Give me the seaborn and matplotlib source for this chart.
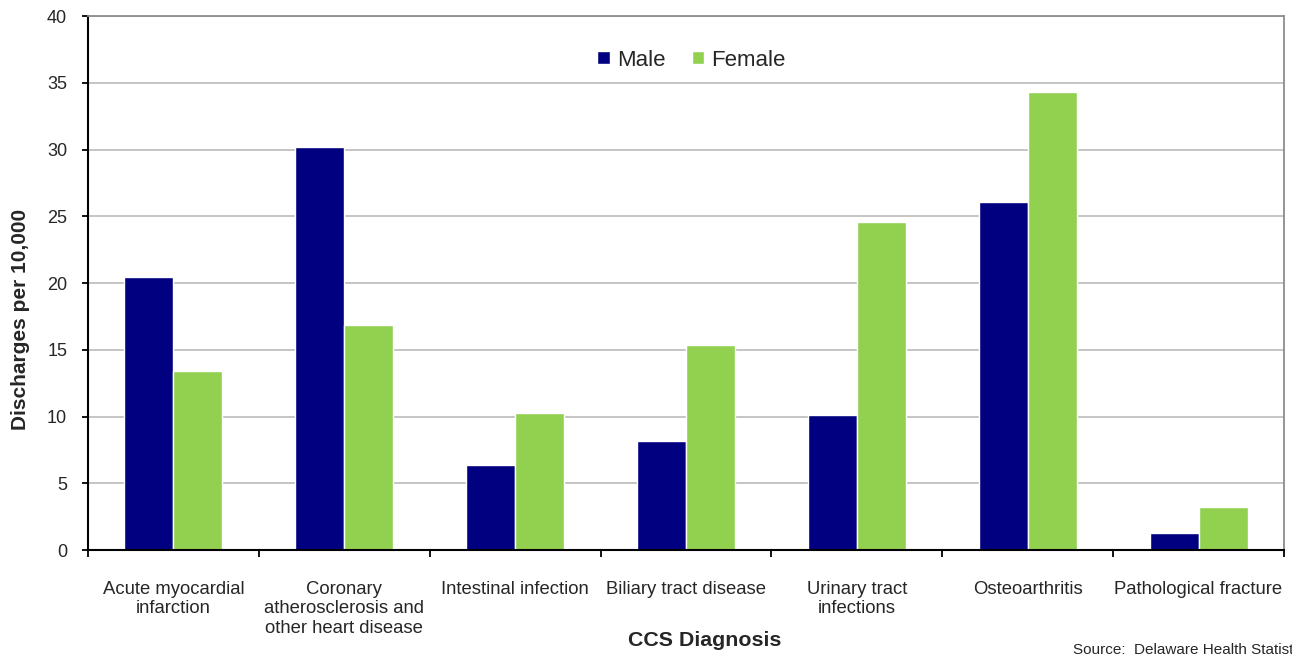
import numpy as np
import pandas as pd
import matplotlib
matplotlib.use('Agg')
import matplotlib.pyplot as plt
import seaborn as sns

# data
categories = ['Acute myocardial\ninfarction',
              'Coronary\natherosclerosis and\nother heart disease',
              'Intestinal infection',
              'Biliary tract disease',
              'Urinary tract\ninfections',
              'Osteoarthritis',
              'Pathological fracture']
male = [20.45, 30.2, 6.37, 8.16, 10.1, 26.07, 1.27]
female = [13.4, 16.85, 10.26, 15.36, 24.6, 34.3, 3.22]
series = ['Male', 'Female']
colors = ['#000080', '#92D050']

df = pd.DataFrame({
    'diagnosis': categories * 2,
    'sex': [series[0]] * len(categories) + [series[1]] * len(categories),
    'rate': male + female,
})

sns.set_style('white')
plt.rcParams['font.family'] = ['Liberation Sans', 'DejaVu Sans']

fig = plt.figure(figsize=(12.92, 6.54), dpi=100)
ax = fig.add_axes([0.0681, 0.159, 0.9257, 0.8165])

sns.barplot(data=df, x='diagnosis', y='rate', hue='sex', palette=colors,
            width=0.573, saturation=1, gap=0, ax=ax, legend=True)

ax.set_ylim(0, 40)
ax.set_xlim(-0.5, len(categories) - 0.5)
ax.set_yticks(np.arange(0, 41, 5))
ax.yaxis.grid(True, color='#C0C0C0', linewidth=1.3)
ax.set_axisbelow(True)

for s in ['left', 'bottom']:
    ax.spines[s].set_color('black')
    ax.spines[s].set_linewidth(1.5)
for s in ['top', 'right']:
    ax.spines[s].set_color('#8C8C8C')
    ax.spines[s].set_linewidth(1.3)

ax.tick_params(axis='y', which='major', direction='out', length=4, width=1.3,
               color='black', labelsize=13, pad=11, left=True)
ax.tick_params(axis='x', which='major', length=0, labelsize=13.3, pad=22)
ax.set_xticks(np.arange(-0.5, len(categories)), minor=True)
ax.tick_params(axis='x', which='minor', direction='out', length=5, width=1.3,
               color='black', bottom=True)

ax.set_xlabel('CCS Diagnosis', fontsize=15.4, fontweight='bold')
ax.xaxis.set_label_coords(0.516, -0.152)
ax.set_ylabel('Discharges per 10,000', fontsize=15, fontweight='bold')
ax.yaxis.set_label_coords(-0.0485, 0.431)

ax.legend(loc='center', bbox_to_anchor=(0.5046, 0.9176), ncol=2, frameon=False,
          fontsize=16, handlelength=0.55, handleheight=0.55, columnspacing=1.2,
          handletextpad=0.32, borderpad=0)

fig.text(1073 / 1292, -0.004, 'Source:  Delaware Health Statistics Center',
         fontsize=11, ha='left', va='bottom')

fig.savefig('out.png', dpi=100)
